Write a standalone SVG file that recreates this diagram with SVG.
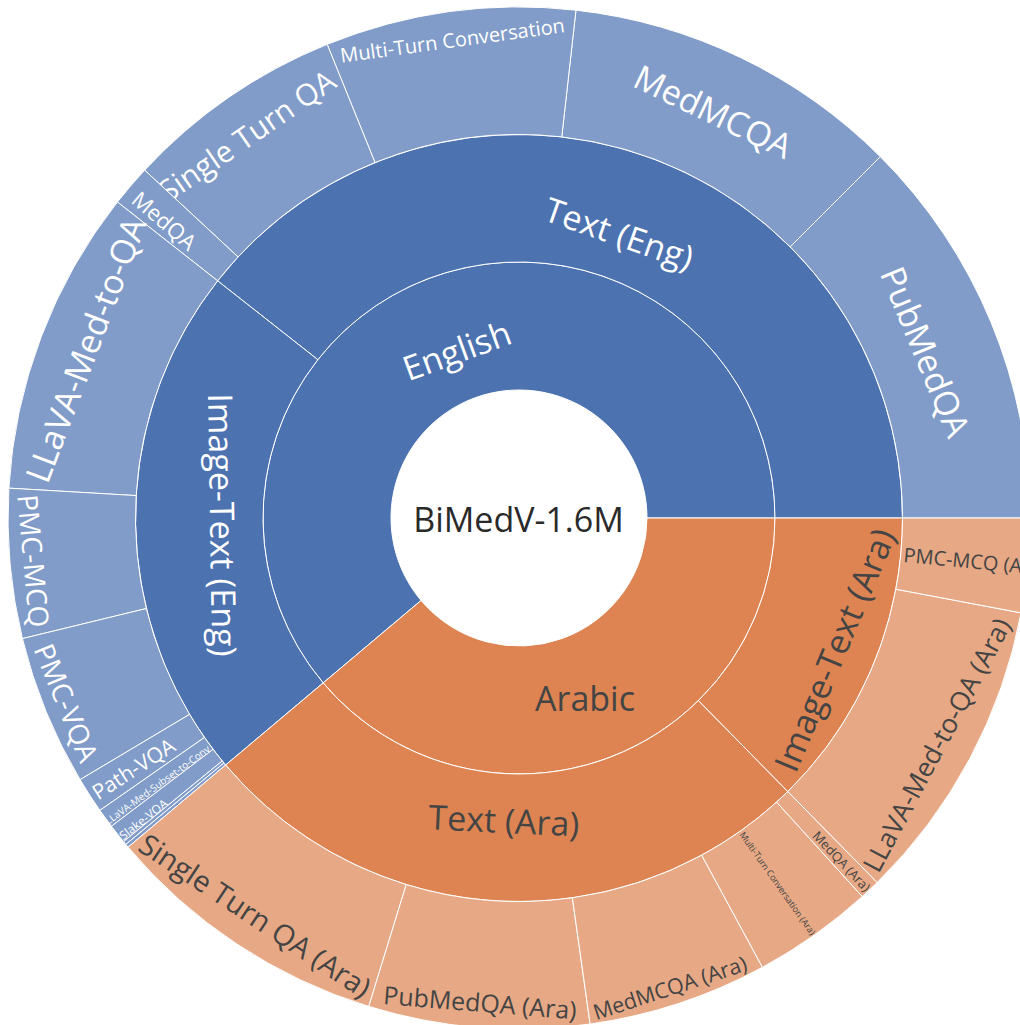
<svg xmlns="http://www.w3.org/2000/svg" width="1020" height="1025" viewBox="0 0 1020 1025">
<style>
path{stroke:#fff;stroke-width:1}
.b1{fill:#4C72B0}.b3{fill:#819CC8}.o1{fill:#DD8452}.o3{fill:#E7A985}
text{font-family:"Open Sans","DejaVu Sans",sans-serif;text-anchor:middle}
.w{fill:#fff}.d{fill:#444}
</style>
<rect width="1020" height="1025" fill="#fff"/>
<g id="root">
<circle cx="519" cy="518" r="128" fill="#fff"/>
<text x="518.5" y="531.5" font-size="34" fill="#2a2a2a">BiMedV-1.6M</text>
</g>
<g id="english"><path class="b1" d="M775 518A256 256 0 1 0 323.18 682.89L421.09 600.45A128 128 0 1 1 647 518Z"/>
<text class="w" font-size="34" dy="0.35em" transform="translate(457 351) rotate(-20)">English</text></g>
<g id="arabic"><path class="o1" d="M323.18 682.89A256 256 0 0 0 775 518L647 518A128 128 0 0 1 421.09 600.45Z"/>
<text class="d" font-size="34" dy="0.35em" transform="translate(585 699)">Arabic</text></g>
<g id="text-eng"><path class="b1" d="M902.5 518A383.5 383.5 0 0 0 217.62 280.84L317.82 359.69A256 256 0 0 1 775 518Z"/>
<text class="w" font-size="34" dy="0.35em" transform="translate(619 234) rotate(19.15)">Text (Eng)</text></g>
<g id="image-text-eng"><path class="b1" d="M217.62 280.84A383.5 383.5 0 0 0 225.65 765.02L323.18 682.89A256 256 0 0 1 317.82 359.69Z"/>
<text class="w" font-size="34" dy="0.35em" transform="translate(222 525) rotate(89.1)">Image-Text (Eng)</text></g>
<g id="text-ara"><path class="o1" d="M225.65 765.02A383.5 383.5 0 0 0 787.8 791.53L698.43 700.59A256 256 0 0 1 323.18 682.89Z"/>
<text class="d" font-size="34" dy="0.35em" transform="translate(504 821) rotate(2.7)">Text (Ara)</text></g>
<g id="image-text-ara"><path class="o1" d="M787.8 791.53A383.5 383.5 0 0 0 902.5 518L775 518A256 256 0 0 1 698.43 700.59Z"/>
<text class="d" font-size="34" dy="0.35em" transform="translate(835 650) rotate(-67.25)">Image-Text (Ara)</text></g>
<g id="pubmedqa"><path class="b3" d="M1030 518A511 511 0 0 0 880.33 156.67L790.18 246.82A383.5 383.5 0 0 1 902.5 518Z"/>
<text class="w" font-size="34" dy="0.35em" transform="translate(925 352) rotate(67.5)">PubMedQA</text></g>
<g id="medmcqa"><path class="b3" d="M880.33 156.67A511 511 0 0 0 575.96 10.18L561.75 136.89A383.5 383.5 0 0 1 790.18 246.82Z"/>
<text class="w" font-size="34" dy="0.35em" transform="translate(713 112) rotate(25.7)">MedMCQA</text></g>
<g id="multi-turn"><path class="b3" d="M575.96 10.18A511 511 0 0 0 327.17 44.37L375.03 162.55A383.5 383.5 0 0 1 561.75 136.89Z"/>
<text class="w" font-size="20" dy="0.35em" transform="translate(452.5 40.5) rotate(-7.8)">Multi-Turn Conversation</text></g>
<g id="single-turn"><path class="b3" d="M327.17 44.37A511 511 0 0 0 144.67 170.15L238.07 256.94A383.5 383.5 0 0 1 375.03 162.55Z"/>
<text class="w" font-size="30" dy="0.35em" transform="translate(247 136) rotate(-34.6)">Single Turn QA</text></g>
<g id="medqa"><path class="b3" d="M144.67 170.15A511 511 0 0 0 117.43 201.99L217.62 280.84A383.5 383.5 0 0 1 238.07 256.94Z"/>
<text class="w" font-size="22" dy="0.35em" transform="translate(164 221) rotate(40.55)">MedQA</text></g>
<g id="llava-med-to-qa"><path class="b3" d="M117.43 201.99A511 511 0 0 0 8.87 488.14L136.16 495.59A383.5 383.5 0 0 1 217.62 280.84Z"/>
<text class="w" font-size="34" dy="0.35em" transform="translate(86 350) rotate(-69.2)">LLaVA-Med-to-QA</text></g>
<g id="pmc-mcq"><path class="b3" d="M8.87 488.14A511 511 0 0 0 22.43 638.6L146.33 608.51A383.5 383.5 0 0 1 136.16 495.59Z"/>
<text class="w" font-size="28" dy="0.35em" transform="translate(33 561) rotate(84.85)">PMC-MCQ</text></g>
<g id="pmc-vqa"><path class="b3" d="M22.43 638.6A511 511 0 0 0 80.07 779.65L189.59 714.37A383.5 383.5 0 0 1 146.33 608.51Z"/>
<text class="w" font-size="28" dy="0.35em" transform="translate(66 703) rotate(67.8)">PMC-VQA</text></g>
<g id="path-vqa"><path class="b3" d="M80.07 779.65A511 511 0 0 0 99.9 810.37L204.47 737.42A383.5 383.5 0 0 1 189.59 714.37Z"/>
<text class="w" font-size="21" dy="0.35em" transform="translate(133.5 769) rotate(-32.85)">Path-VQA</text></g>
<g id="llava-med-subset-to-conv"><path class="b3" d="M99.9 810.37A511 511 0 0 0 111.44 826.24L213.13 749.33A383.5 383.5 0 0 1 204.47 737.42Z"/>
<text class="w" font-size="10" dy="0.35em" transform="translate(157.5 785) rotate(-36)">LLaVA-Med-Subset-to-Conv</text></g>
<g id="slake-vqa"><path class="b3" d="M111.44 826.24A511 511 0 0 0 123.57 841.66L222.23 760.9A383.5 383.5 0 0 1 213.13 749.33Z"/>
<text class="w" font-size="12" dy="0.35em" transform="translate(143.5 819.5) rotate(-38)">Slake-VQA</text></g>
<g id="eng-sliver-1"><path class="b3" d="M123.57 841.66A511 511 0 0 0 125.84 844.41L223.93 762.97A383.5 383.5 0 0 1 222.23 760.9Z"/></g>
<g id="eng-sliver-2"><path class="b3" d="M125.84 844.41A511 511 0 0 0 128.13 847.15L225.65 765.02A383.5 383.5 0 0 1 223.93 762.97Z"/></g>
<g id="single-turn-ara"><path class="o3" d="M128.13 847.15A511 511 0 0 0 368.75 1006.41L406.24 884.55A383.5 383.5 0 0 1 225.65 765.02Z"/>
<text class="d" font-size="29" dy="0.35em" transform="translate(255 916) rotate(33.5)">Single Turn QA (Ara)</text></g>
<g id="pubmedqa-ara"><path class="o3" d="M368.75 1006.41A511 511 0 0 0 590.12 1024.03L572.37 897.77A383.5 383.5 0 0 1 406.24 884.55Z"/>
<text class="d" font-size="25" dy="0.35em" transform="translate(480 1003) rotate(4.55)">PubMedQA (Ara)</text></g>
<g id="medmcqa-ara"><path class="o3" d="M590.12 1024.03A511 511 0 0 0 762.45 967.29L701.7 855.18A383.5 383.5 0 0 1 572.37 897.77Z"/>
<text class="d" font-size="21.5" dy="0.35em" transform="translate(670 988) rotate(-18.2)">MedMCQA (Ara)</text></g>
<g id="multi-turn-ara"><path class="o3" d="M762.45 967.29A511 511 0 0 0 862.25 896.55L776.6 802.1A383.5 383.5 0 0 1 701.7 855.18Z"/>
<text class="d" font-size="9" dy="0.35em" transform="translate(777.5 883.5) rotate(54.7)">Multi-Turn Conversation (Ara)</text></g>
<g id="medqa-ara"><path class="o3" d="M862.25 896.55A511 511 0 0 0 877.17 882.47L787.8 791.53A383.5 383.5 0 0 1 776.6 802.1Z"/>
<text class="d" font-size="13" dy="0.35em" transform="translate(841.5 861.5) rotate(46.65)">MedQA (Ara)</text></g>
<g id="llava-med-to-qa-ara"><path class="o3" d="M877.17 882.47A511 511 0 0 0 1021.11 612.88L895.83 589.21A383.5 383.5 0 0 1 787.8 791.53Z"/>
<text class="d" font-size="26.5" dy="0.35em" transform="translate(937 745) rotate(-61.9)">LLaVA-Med-to-QA (Ara)</text></g>
<g id="pmc-mcq-ara"><path class="o3" d="M1021.11 612.88A511 511 0 0 0 1030 518L902.5 518A383.5 383.5 0 0 1 895.83 589.21Z"/>
<text class="d" font-size="20" style="text-anchor:start" transform="translate(903 562) rotate(5.35)">PMC-MCQ (Ara)</text></g>
</svg>
